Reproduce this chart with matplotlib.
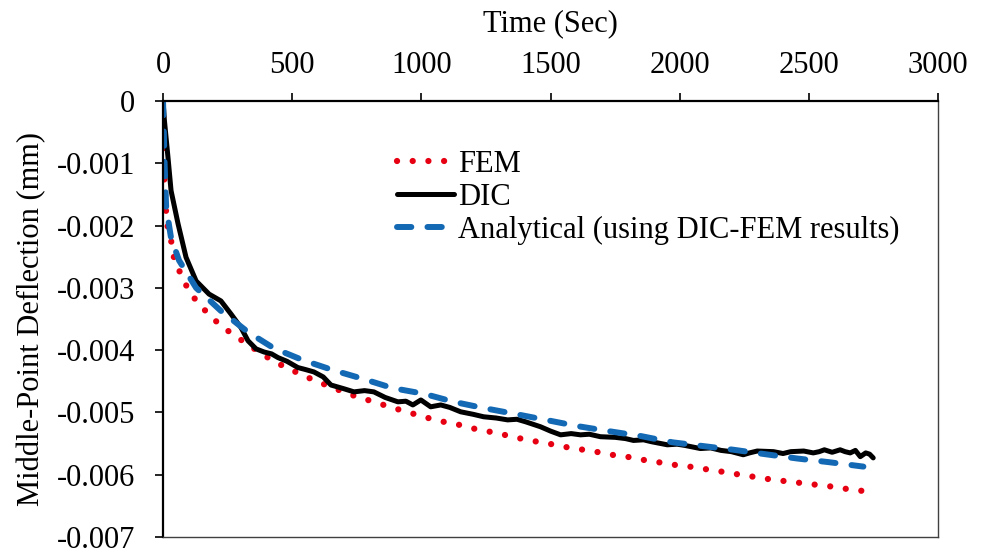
import matplotlib
matplotlib.use("Agg")
import matplotlib.pyplot as plt

plt.rcParams['font.family'] = ['Liberation Serif', 'DejaVu Serif']

# FEM prediction (sec, mm)
fem_t = [0, 2, 5, 12, 20, 35, 45, 73, 100, 140, 182, 228, 275, 325, 379, 429, 487,
         545, 599, 657, 715, 777, 831, 893, 951, 1009, 1071, 1129, 1191, 1253, 1311,
         1373, 1434, 1492, 1550, 1612, 1674, 1736, 1794, 1856, 1918, 1976, 2038, 2099,
         2161, 2219, 2281, 2343, 2401, 2463, 2525, 2587, 2649, 2707]
fem_d = [0, -0.0008, -0.0013, -0.0018, -0.0021, -0.0023, -0.0026, -0.0028, -0.00306,
         -0.00326, -0.00345, -0.00362, -0.00376, -0.0039, -0.00405, -0.00418, -0.0043,
         -0.00441, -0.00451, -0.0046, -0.0047, -0.00478, -0.00485, -0.00493, -0.005,
         -0.00507, -0.00514, -0.00518, -0.00525, -0.0053, -0.00535, -0.00541, -0.00546,
         -0.0055, -0.00555, -0.00559, -0.00563, -0.00568, -0.00571, -0.00576, -0.0058,
         -0.00584, -0.00587, -0.00591, -0.00595, -0.00599, -0.00603, -0.00607, -0.0061,
         -0.00613, -0.00616, -0.00619, -0.00623, -0.00626]

# DIC measurement
dic_t = [0, 5, 12, 19, 31, 58, 89, 128, 178, 224, 263, 302, 329, 360, 391, 420, 445,
         480, 522, 550, 584, 620, 650, 700, 739, 780, 816, 860, 909, 940, 967, 998,
         1036, 1075, 1110, 1152, 1200, 1241, 1290, 1334, 1370, 1403, 1461, 1500, 1539,
         1580, 1616, 1650, 1693, 1750, 1790, 1821, 1860, 1890, 1952, 1990, 2020, 2080,
         2120, 2160, 2200, 2246, 2270, 2300, 2363, 2400, 2430, 2480, 2517, 2540, 2560,
         2590, 2621, 2640, 2660, 2680, 2699, 2720, 2735, 2749]
dic_d = [0, -0.0003, -0.0006, -0.0009, -0.00144, -0.00197, -0.00251, -0.00289, -0.0031,
         -0.00321, -0.00342, -0.00364, -0.00385, -0.00398, -0.00403, -0.00406, -0.00412,
         -0.00418, -0.00428, -0.00431, -0.00435, -0.00443, -0.00456, -0.00462, -0.00467,
         -0.00465, -0.00467, -0.00476, -0.00483, -0.00482, -0.00488, -0.0048, -0.00491,
         -0.00488, -0.00492, -0.00499, -0.00503, -0.00507, -0.00509, -0.00512, -0.00511,
         -0.00515, -0.00523, -0.0053, -0.00536, -0.00534, -0.00536, -0.00535, -0.00539,
         -0.0054, -0.00542, -0.00545, -0.00544, -0.00547, -0.00552, -0.00551, -0.00553,
         -0.00558, -0.00557, -0.00561, -0.00563, -0.00568, -0.00565, -0.00562, -0.00563,
         -0.00566, -0.00563, -0.00562, -0.00565, -0.00563, -0.0056, -0.00564, -0.0056,
         -0.00563, -0.00565, -0.00561, -0.00571, -0.00565, -0.00567, -0.00573]

# Analytical solution (using DIC-FEM results)
ana_t = [0, 3, 6, 12, 31, 62, 128, 224, 329, 429, 541, 657, 773, 889, 1009, 1125, 1241,
         1357, 1481, 1604, 1724, 1850, 1972, 2090, 2209, 2330, 2455, 2580, 2711]
ana_d = [0, -0.0005, -0.001, -0.0017, -0.0022, -0.00256, -0.003, -0.00337, -0.00371,
         -0.00397, -0.00416, -0.00432, -0.00446, -0.00461, -0.0047, -0.00483, -0.00493,
         -0.00502, -0.00512, -0.00522, -0.0053, -0.00538, -0.00548, -0.00554, -0.0056,
         -0.00567, -0.00574, -0.0058, -0.00587]

xticks = [0, 500, 1000, 1500, 2000, 2500, 3000]
yticks = [0, -0.001, -0.002, -0.003, -0.004, -0.005, -0.006, -0.007]
ytick_labels = ['0', '-0.001', '-0.002', '-0.003', '-0.004', '-0.005', '-0.006', '-0.007']

fig = plt.figure(figsize=(9.84, 5.48), dpi=100)
ax = fig.add_axes([0.1657, 0.0201, 0.9533 - 0.1657, 0.8157 - 0.0201])

ax.plot(fem_t, fem_d, color='#E60012', lw=4.5, linestyle=(0, (0.01, 2.5)),
        dash_capstyle='round', label='FEM')
ax.plot(dic_t, dic_d, color='black', lw=3.6, solid_joinstyle='round',
        solid_capstyle='round', label='DIC')
ax.plot(ana_t, ana_d, color='#1469B4', lw=4.3, linestyle=(0, (2.4, 2.7)),
        dash_capstyle='round', label='Analytical (using DIC-FEM results)')

ax.set_xlim(0, 3000)
ax.set_ylim(-0.007, 0)
ax.set_xticks(xticks)
ax.set_yticks(yticks)
ax.set_yticklabels(ytick_labels)
ax.xaxis.tick_top()
ax.xaxis.set_label_position('top')
ax.tick_params(axis='both', direction='out', length=6, width=1.2, labelsize=22,
               color='black')
ax.tick_params(axis='x', pad=9)
ax.tick_params(axis='y', pad=14)

ax.set_xlabel('Time (Sec)', fontsize=22, labelpad=14)
ax.set_ylabel('Middle-Point Deflection (mm)', fontsize=22, labelpad=8)

for side in ['top', 'left']:
    ax.spines[side].set_linewidth(1.6)
    ax.spines[side].set_color('black')
for side in ['bottom', 'right']:
    ax.spines[side].set_linewidth(1.0)
    ax.spines[side].set_color('#404040')

leg = ax.legend(loc='upper left', bbox_to_anchor=(397 / 984, 1 - 150 / 548),
                bbox_transform=fig.transFigure, frameon=False, fontsize=22,
                handlelength=1.85, handletextpad=0.16, labelspacing=0.13,
                borderaxespad=0, borderpad=0)

fig.savefig('out.png', dpi=100)
